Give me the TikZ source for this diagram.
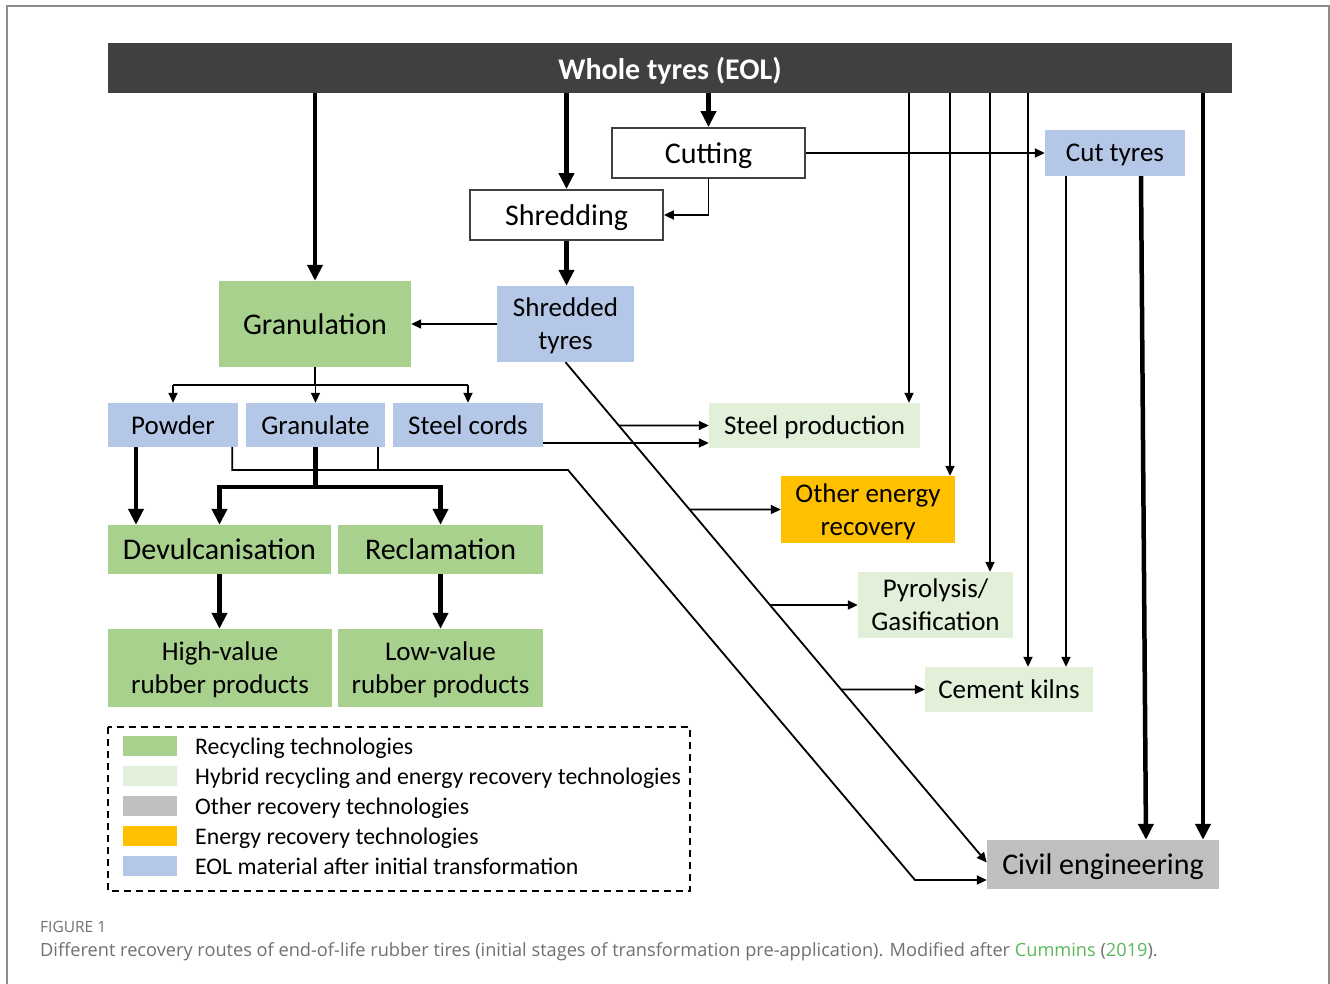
\documentclass[tikz,border=0pt]{standalone}
\usepackage{fontspec}
\setmainfont{Carlito}
\newfontfamily\capfont{Open Sans}
\usetikzlibrary{arrows.meta,calc}
\definecolor{hdr}{HTML}{404040}
\definecolor{grn}{HTML}{A9D18E}
\definecolor{lgrn}{HTML}{E2F0D9}
\definecolor{gry}{HTML}{BFBFBF}
\definecolor{org}{HTML}{FFC000}
\definecolor{blu}{HTML}{B4C7E7}
\definecolor{capgray}{HTML}{707070}
\definecolor{capgreen}{HTML}{5CB85C}
\definecolor{framegray}{HTML}{8C8C8C}
\begin{document}
\begin{tikzpicture}[x=1pt,y=-1pt,
  bx/.style={rectangle, inner sep=0pt, align=center, text=black, text depth=0pt,
    font=\fontsize{27}{33}\selectfont},
  big/.style={font=\fontsize{30}{33}\selectfont},
  sz/.style 2 args={minimum width=#1pt, minimum height=#2pt},
  wbox/.style={draw=hdr, line width=1.8pt, fill=white},
  thinline/.style={line width=1.8pt},
  thinarrow/.style={line width=1.8pt, -{Triangle[length=10pt,width=9pt]}},
  thickline/.style={line width=4.5pt},
  thickarrow/.style={line width=4.5pt, -{Triangle[length=16pt,width=15pt]}},
  swatch/.style={rectangle, inner sep=0pt, minimum width=54pt, minimum height=20pt},
  legtext/.style={anchor=west, inner sep=0pt, text depth=0pt, font=\fontsize{23.8}{28}\selectfont},
]
\useasboundingbox (0,0) rectangle (1330,983);
\clip (0,0) rectangle (1330,983);
\fill[white] (0,0) rectangle (1330,983);
\draw[framegray, line width=2pt] (7,995) -- (7,6) -- (1329,6) -- (1329,995);

% nodes
\node[bx, fill=hdr, sz={1124}{50}, text=white, font=\fontsize{30}{33}\selectfont\bfseries] (header) at (670,68) {Whole tyres (EOL)};
\node[bx, big, wbox, sz={193}{50}] (cutting) at (708.5,153) {Cutting};
\node[bx, big, wbox, sz={193}{50}] (shredding) at (566.5,215) {Shredding};
\node[bx, fill=blu, sz={140}{46}] (cuttyres) at (1115,153) {Cut tyres};
\node[bx, big, fill=grn, sz={192}{86}] (granulation) at (315,324) {Granulation};
\node[bx, fill=blu, sz={137}{76}] (shredded) at (565.5,324) {Shredded\\tyres};
\node[bx, fill=blu, sz={130}{44}] (powder) at (173,425) {Powder};
\node[bx, fill=blu, sz={139}{44}] (granulate) at (315.5,425) {Granulate};
\node[bx, fill=blu, sz={150}{44}] (steelcords) at (468,425) {Steel cords};
\node[bx, big, fill=grn, sz={223}{49}] (devulc) at (219.5,549.5) {Devulcanisation};
\node[bx, big, fill=grn, sz={205}{49}] (reclam) at (440.5,549.5) {Reclamation};
\node[bx, fill=grn, sz={224}{78}] (highv) at (220,668) {High-value\\rubber products};
\node[bx, fill=grn, sz={205}{78}] (lowv) at (440.5,668) {Low-value\\rubber products};
\node[bx, fill=lgrn, sz={211}{45}] (steelprod) at (814.5,425.5) {Steel production};
\node[bx, fill=org, sz={174}{67}] (otherenergy) at (868,509.5) {Other energy\\recovery};
\node[bx, fill=lgrn, sz={155}{66}] (pyro) at (935.5,605) {Pyrolysis/\\Gasification};
\node[bx, fill=lgrn, sz={168}{45}] (cement) at (1009,689.5) {Cement kilns};
\node[bx, big, fill=gry, sz={232}{49}] (civil) at (1103,864.5) {Civil engineering};

% top connectors
\draw[thickarrow] (header.south -| granulation.north) -- (granulation.north);
\draw[thickarrow] (header.south -| shredding.north) -- (shredding.north);
\draw[thickarrow] (header.south -| cutting.north) -- (cutting.north);
\draw[thinarrow] (cutting.south) |- (shredding.east);
\draw[thinarrow] (cutting.east) -- (cuttyres.west);
\draw[thickarrow] (shredding.south) -- (shredding.south |- shredded.north);
\draw[thinarrow] (shredded.west) -- (granulation.east);

% granulation branch
\coordinate (gbr) at ($(granulation.south)+(0,18)$);
\draw[thinline] (granulation.south) -- (gbr);
\draw[thinline] (gbr -| powder.north) -- (gbr -| steelcords.north);
\draw[thinarrow] (gbr -| powder.north) -- (powder.north);
\draw[thinarrow] (gbr -| granulate.north) -- (granulate.north);
\draw[thinarrow] (gbr -| steelcords.north) -- (steelcords.north);

% powder / granulate to processes
\coordinate (pw1) at ([xshift=-37pt]powder.south);
\draw[thickarrow] (pw1) -- (pw1 |- devulc.north);
\coordinate (gj) at ($(granulate.south)+(0,40)$);
\draw[thickline] (granulate.south) -- (gj);
\draw[thickarrow] (gj) -| (devulc.north);
\draw[thickarrow] (gj) -| (reclam.north);
\draw[thickarrow] (devulc.south) -- (devulc.south |- highv.north);
\draw[thickarrow] (reclam.south) -- (reclam.south |- lowv.north);

% steel cords to steel production
\coordinate (sc1) at ([yshift=-18pt]steelcords.east);
\draw[thinarrow] (sc1) -- (sc1 -| steelprod.west);

% diagonal from shredded tyres
\coordinate (d0) at (shredded.south);
\coordinate (d1) at ([yshift=2pt]civil.west);
\draw[thinarrow] (d0) -- (d1);
\foreach \n in {steelprod,otherenergy,pyro,cement}{
  \coordinate (A\n) at (\n.west);
  \coordinate (B\n) at ([xshift=-400pt]\n.west);
  \draw[thinarrow] (intersection of d0--d1 and A\n--B\n) -- (\n.west);
}

% second route from powder and granulate
\coordinate (p1) at ([xshift=-6pt]powder.south east);
\coordinate (g1) at ([xshift=-7pt]granulate.south east);
\coordinate (r1) at (568,470);
\coordinate (r2) at (915,880);
\draw[thinarrow] (p1) |- (r1) -- (r2) -- (civil.west |- r2);
\draw[thinline] (g1) -- (g1 |- r1);

% vertical lines from header
\coordinate (v1) at ([xshift=94.5pt]steelprod.north);
\coordinate (v2) at ([xshift=82pt]otherenergy.north);
\coordinate (v3) at ([xshift=54.5pt]pyro.north);
\coordinate (v4) at ([xshift=19pt]cement.north);
\draw[thinarrow] (header.south -| v1) -- (v1);
\draw[thinarrow] (header.south -| v2) -- (v2);
\draw[thinarrow] (header.south -| v3) -- (v3);
\draw[thinarrow] (header.south -| v4) -- (v4);

% cut tyres connectors
\coordinate (ct2) at ([xshift=-49pt]cuttyres.south);
\draw[thinarrow] (ct2) -- (ct2 |- cement.north);
\coordinate (ct1) at ([xshift=26pt]cuttyres.south);
\coordinate (cv1) at ([xshift=43pt]civil.north);
\draw[thickarrow] (ct1) -- (cv1);
\coordinate (cv2) at ([xshift=100pt]civil.north);
\draw[thickarrow] (header.south -| cv2) -- (cv2);

% legend
\draw[line width=1.8pt, dash pattern=on 7pt off 5pt] (108,727) rectangle (690,891);
\node[swatch, fill=grn] (s1) at (150,746) {};
\node[swatch, fill=lgrn] (s2) at (150,776) {};
\node[swatch, fill=gry] (s3) at (150,806) {};
\node[swatch, fill=org] (s4) at (150,836) {};
\node[swatch, fill=blu] (s5) at (150,866) {};
\node[legtext] (l1) at (195,746) {Recycling technologies};
\node[legtext] (l2) at (195,776) {Hybrid recycling and energy recovery technologies};
\node[legtext] (l3) at (195,806) {Other recovery technologies};
\node[legtext] (l4) at (195,836) {Energy recovery technologies};
\node[legtext] (l5) at (195,866) {EOL material after initial transformation};

% caption
\node[anchor=base west, inner sep=0pt, text=capgray, font=\capfont\fontsize{15.5}{18}\selectfont] (figlab) at (40,932) {FIGURE 1};
\node[anchor=base west, inner sep=0pt, text=capgray, font=\capfont\fontsize{18.2}{22}\selectfont] (cap) at (40,956) {Different recovery routes of end-of-life rubber tires (initial stages of transformation pre-application). Modified after \textcolor{capgreen}{Cummins} (\textcolor{capgreen}{2019}).};
\end{tikzpicture}
\end{document}
